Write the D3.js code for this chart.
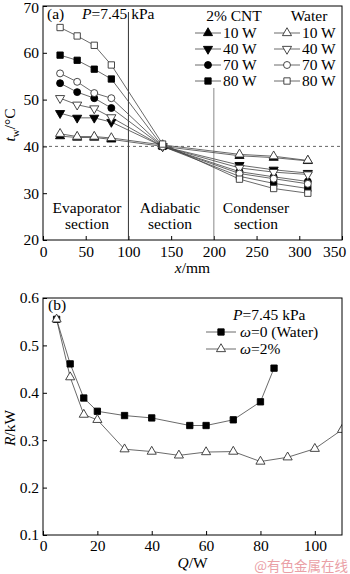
<!DOCTYPE html>
<html>
<head>
<meta charset="utf-8">
<script src="https://cdn.jsdelivr.net/npm/d3@7"></script>
<style>
  body { margin: 0; background: #fff; }
  svg text { font-family: "Liberation Serif", "Times New Roman", Times, "DejaVu Serif", serif; }
  svg text.cjk { font-family: "Noto Sans CJK SC", sans-serif; }
</style>
</head>
<body>
<svg width="350" height="574"></svg>
<script>
// (a) wall temperature along the pipe
const xPos = [20, 40, 60, 80, 140, 230, 270, 310];
const cnt10 = [42.2, 41.9, 41.9, 41.5, 40, 38, 37.6, 36.9];
const cnt40 = [47.1, 46.1, 46.1, 45.2, 40, 36, 35, 34.3];
const cnt70 = [53.5, 51.6, 50.3, 48.2, 40, 34.6, 33.5, 32.5];
const cnt80 = [59.5, 58.4, 56.5, 54.4, 40, 33.6, 32.1, 31];
const water10 = [42.7, 42.1, 42.1, 41.8, 40.3, 38.3, 37.9, 37];
const water40 = [50.3, 48.9, 48.1, 46.2, 40, 35.4, 34.5, 34];
const water70 = [55.6, 53.8, 51.4, 50.3, 40, 34.2, 33.1, 32];
const water80 = [65.4, 63.6, 61.6, 57.4, 40.5, 33, 31, 30];
const powers = ["10 W", "40 W", "70 W", "80 W"];
const ticksA_x = [0, 50, 100, 150, 200, 250, 300, 350];
const ticksA_y = [20, 30, 40, 50, 60, 70];

// (b) thermal resistance vs heat load
const qWater = [5, 10, 15, 20, 30, 40, 54, 60, 70, 80, 85];
const rWater = [0.555, 0.461, 0.389, 0.361, 0.352, 0.347, 0.331, 0.331, 0.343, 0.381, 0.452];
const qCnt = [5, 10, 15, 20, 30, 40, 50, 60, 70, 80, 90, 100, 110];
const rCnt = [0.555, 0.433, 0.354, 0.343, 0.281, 0.276, 0.268, 0.275, 0.276, 0.255, 0.264, 0.282, 0.322];
const ticksB_x = [0, 20, 40, 60, 80, 100];
const ticksB_y = [0.1, 0.2, 0.3, 0.4, 0.5, 0.6];

const svg = d3.select("svg");
const fs = 15.5;
const lineCol = "#444";

const shapes = {
    up: {type: d3.symbolTriangle, size: 36, rot: 0},
    down: {type: d3.symbolTriangle, size: 36, rot: 180},
    circle: {type: d3.symbolCircle, size: 38, rot: 0},
    square: {type: d3.symbolSquare, size: 40, rot: 0}
};

const drawMarker = (g, x, y, shape, filled) => {
    const s = shapes[shape];
    g.append("path")
     .attr("d", d3.symbol().type(s.type).size(s.size)())
     .attr("transform", `translate(${x},${y}) rotate(${s.rot})`)
     .attr("fill", filled ? "#000" : "#fff")
     .attr("stroke", filled ? "#000" : "#333")
     .attr("stroke-width", 0.9);
};

const drawFrame = (g, x0, y0, x1, y1) => {
    g.append("rect")
     .attr("x", x0).attr("y", y0)
     .attr("width", x1 - x0).attr("height", y1 - y0)
     .attr("fill", "none").attr("stroke", "#000").attr("stroke-width", 1);
};

const styleAxis = (sel) => {
    sel.attr("font-family", null);
    sel.select(".domain").remove();
    sel.selectAll("line").attr("stroke", "#000");
    sel.selectAll("text")
       .attr("font-size", fs)
       .attr("fill", "#000");
};

// ---------- panel (a) ----------
const areaA = {left: 43, right: 342, top: 6, bottom: 240};
const scXA = d3.scaleLinear().domain([0, 350]).range([areaA.left, areaA.right]);
const scYA = d3.scaleLinear().domain([20, 70]).range([areaA.bottom, areaA.top]);
const gA = svg.append("g");

gA.append("g")
  .attr("transform", `translate(0,${areaA.bottom})`)
  .call(d3.axisBottom(scXA).tickValues(ticksA_x).tickSizeInner(-4).tickSizeOuter(0).tickPadding(6))
  .call(styleAxis)
  .selectAll("text")
  .filter(d => d == 350)
  .attr("dx", -8);
gA.append("g")
  .attr("transform", `translate(${areaA.left},0)`)
  .call(d3.axisLeft(scYA).tickValues(ticksA_y).tickSizeInner(-4).tickSizeOuter(0).tickPadding(4))
  .call(styleAxis)
  .selectAll("text")
  .filter(d => d == 70)
  .attr("dy", "0.42em");

// section borders and the 40 degree reference line
gA.append("line")
  .attr("x1", scXA(100)).attr("x2", scXA(100))
  .attr("y1", areaA.top + 6).attr("y2", areaA.bottom)
  .attr("stroke", "#333").attr("stroke-width", 1);
gA.append("line")
  .attr("x1", scXA(200)).attr("x2", scXA(200))
  .attr("y1", 88).attr("y2", areaA.bottom)
  .attr("stroke", "#888").attr("stroke-width", 1);
gA.append("line")
  .attr("x1", areaA.left).attr("x2", areaA.right)
  .attr("y1", scYA(40)).attr("y2", scYA(40))
  .attr("stroke", "#555").attr("stroke-width", 0.9)
  .attr("stroke-dasharray", "3,3");

const seriesA = [
    {vals: cnt10, shape: "up", filled: true},
    {vals: cnt40, shape: "down", filled: true},
    {vals: cnt70, shape: "circle", filled: true},
    {vals: cnt80, shape: "square", filled: true},
    {vals: water10, shape: "up", filled: false},
    {vals: water40, shape: "down", filled: false},
    {vals: water70, shape: "circle", filled: false},
    {vals: water80, shape: "square", filled: false}
];

const lineA = d3.line().x((d, i) => scXA(xPos[i])).y(d => scYA(d));
seriesA.forEach(s => {
    gA.append("path")
      .attr("d", lineA(s.vals))
      .attr("fill", "none").attr("stroke", lineCol).attr("stroke-width", 0.8);
});
seriesA.forEach(s => {
    s.vals.forEach((v, i) => drawMarker(gA, scXA(xPos[i]), scYA(v), s.shape, s.filled));
});

drawFrame(gA, areaA.left, areaA.top, areaA.right, areaA.bottom);

// labels (a)
gA.append("text").attr("x", 47).attr("y", 19).attr("font-size", fs).text("(a)");
const pA = gA.append("text").attr("x", 82).attr("y", 19).attr("font-size", fs);
pA.append("tspan").attr("font-style", "italic").text("P");
pA.append("tspan").text("=7.45 kPa");

const sectionLabels = [
    {x: 87, lines: ["Evaporator", "section"]},
    {x: 170, lines: ["Adiabatic", "section"]},
    {x: 256, lines: ["Condenser", "section"]}
];
sectionLabels.forEach(s => {
    s.lines.forEach((t, i) => {
        gA.append("text")
          .attr("x", s.x).attr("y", 213 + i * 16)
          .attr("text-anchor", "middle").attr("font-size", fs)
          .text(t);
    });
});

// legend (a)
gA.append("text").attr("x", 234).attr("y", 21).attr("text-anchor", "middle").attr("font-size", fs).text("2% CNT");
gA.append("text").attr("x", 309).attr("y", 21).attr("text-anchor", "middle").attr("font-size", fs).text("Water");
const legShapes = ["up", "down", "circle", "square"];
powers.forEach((p, i) => {
    const y = 33 + i * 16;
    [{x0: 195, filled: true}, {x0: 274, filled: false}].forEach(c => {
        gA.append("line")
          .attr("x1", c.x0).attr("x2", c.x0 + 26)
          .attr("y1", y).attr("y2", y)
          .attr("stroke", lineCol).attr("stroke-width", 0.8);
        drawMarker(gA, c.x0 + 13, y, legShapes[i], c.filled);
        gA.append("text")
          .attr("x", c.x0 + 28).attr("y", y + 5)
          .attr("font-size", fs).text(p);
    });
});

// axis titles (a)
const tY = gA.append("text")
  .attr("transform", "translate(15,125) rotate(-90)")
  .attr("text-anchor", "middle").attr("font-size", fs);
tY.append("tspan").attr("font-style", "italic").text("t");
tY.append("tspan").attr("font-size", 11).attr("dy", 4).text("w");
tY.append("tspan").attr("dy", -4).text("/°C");

const tX = gA.append("text")
  .attr("x", scXA(175)).attr("y", 273)
  .attr("text-anchor", "middle").attr("font-size", fs);
tX.append("tspan").attr("font-style", "italic").text("x");
tX.append("tspan").text("/mm");

// ---------- panel (b) ----------
const areaB = {left: 43, right: 342, top: 298, bottom: 535};
const scXB = d3.scaleLinear().domain([0, 110]).range([areaB.left, areaB.right]);
const scYB = d3.scaleLinear().domain([0.1, 0.6]).range([areaB.bottom, areaB.top]);
const gB = svg.append("g");

gB.append("g")
  .attr("transform", `translate(0,${areaB.bottom})`)
  .call(d3.axisBottom(scXB).tickValues(ticksB_x).tickSizeInner(-4).tickSizeOuter(0).tickPadding(5))
  .call(styleAxis);
gB.append("g")
  .attr("transform", `translate(${areaB.left},0)`)
  .call(d3.axisLeft(scYB).tickValues(ticksB_y).tickFormat(d3.format(".1f")).tickSizeInner(-4).tickSizeOuter(0).tickPadding(4))
  .call(styleAxis);

svg.append("defs").append("clipPath").attr("id", "clipB")
   .append("rect")
   .attr("x", areaB.left).attr("y", areaB.top)
   .attr("width", areaB.right - areaB.left).attr("height", areaB.bottom - areaB.top);

const plotB = gB.append("g").attr("clip-path", "url(#clipB)");
const lineB = (qs) => d3.line().x((d, i) => scXB(qs[i])).y(d => scYB(d));

plotB.append("path").attr("d", lineB(qCnt)(rCnt))
     .attr("fill", "none").attr("stroke", lineCol).attr("stroke-width", 0.8);
plotB.append("path").attr("d", lineB(qWater)(rWater))
     .attr("fill", "none").attr("stroke", lineCol).attr("stroke-width", 0.8);
rWater.forEach((v, i) => drawMarker(plotB, scXB(qWater[i]), scYB(v), "square", true));
rCnt.forEach((v, i) => drawMarker(plotB, scXB(qCnt[i]), scYB(v), "up", false));

drawFrame(gB, areaB.left, areaB.top, areaB.right, areaB.bottom);

gB.append("text").attr("x", 48).attr("y", 310).attr("font-size", fs).text("(b)");
const pB = gB.append("text").attr("x", 233).attr("y", 320).attr("font-size", fs);
pB.append("tspan").attr("font-style", "italic").text("P");
pB.append("tspan").text("=7.45 kPa");

const legB = [
    {shape: "square", filled: true, label: "=0 (Water)"},
    {shape: "up", filled: false, label: "=2%"}
];
legB.forEach((l, i) => {
    const y = 332 + i * 17;
    gB.append("line")
      .attr("x1", 206).attr("x2", 236)
      .attr("y1", y).attr("y2", y)
      .attr("stroke", lineCol).attr("stroke-width", 0.8);
    drawMarker(gB, 221, y, l.shape, l.filled);
    const t = gB.append("text").attr("x", 240).attr("y", y + 5).attr("font-size", fs);
    t.append("tspan").attr("font-style", "italic").text("ω");
    t.append("tspan").text(l.label);
});

const tYB = gB.append("text")
  .attr("transform", "translate(15,428) rotate(-90)")
  .attr("text-anchor", "middle").attr("font-size", fs);
tYB.append("tspan").attr("font-style", "italic").text("R");
tYB.append("tspan").text("/kW");

const tXB = gB.append("text")
  .attr("x", scXB(55)).attr("y", 568)
  .attr("text-anchor", "middle").attr("font-size", fs);
tXB.append("tspan").attr("font-style", "italic").text("Q");
tXB.append("tspan").text("/W");

// watermark
svg.append("text")
   .attr("class", "cjk")
   .attr("x", 348).attr("y", 571)
   .attr("text-anchor", "end")
   .attr("font-size", 13.5)
   .attr("fill", "#eaa0a6")
   .text("@有色金属在线");
</script>
</body>
</html>
